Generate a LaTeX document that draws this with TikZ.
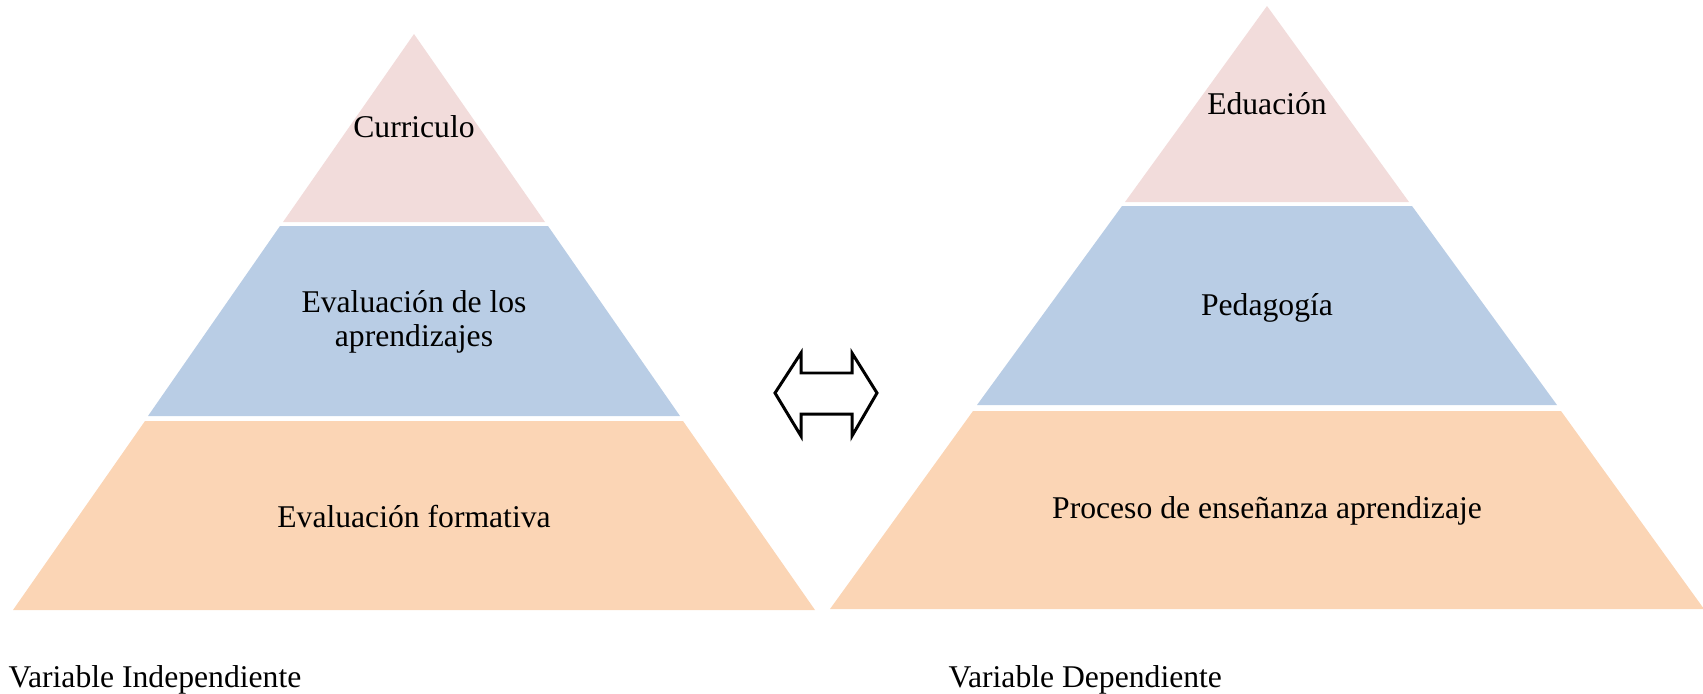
\documentclass[tikz,border=0pt]{standalone}
\usepackage{fontspec}
\setmainfont{Liberation Serif}
\usepackage{tikz}
\usetikzlibrary{positioning}

\definecolor{pinkband}{RGB}{242,220,219}
\definecolor{blueband}{RGB}{185,205,229}
\definecolor{orangeband}{RGB}{251,213,181}

\begin{document}
\begin{tikzpicture}[
        x=0.01cm, y=-0.01cm,
        every node/.style={align=center, font=\fontsize{9}{9.6}\selectfont},
        toplayer/.style={fill=pinkband},
        midlayer/.style={fill=blueband},
        baselayer/.style={fill=orangeband},
        caption/.style={anchor=base west, inner sep=0pt}
    ]
  \useasboundingbox (0,0) rectangle (1703,694);

  % Left pyramid
  \path[toplayer]  (414,34) -- (545,222) -- (283,222) -- cycle;
  \path[midlayer]  (280,226) -- (548,226) -- (680,416) -- (148,416) -- cycle;
  \path[baselayer] (145,421) -- (683,421) -- (815,610) -- (13,610) -- cycle;

  % Right pyramid
  \path[toplayer]  (1267,6) -- (1409,202) -- (1125,202) -- cycle;
  \path[midlayer]  (1122,206) -- (1412,206) -- (1557,405) -- (977,405) -- cycle;
  \path[baselayer] (973,411) -- (1561,411) -- (1704,609) -- (830,609) -- cycle;

  % Nodes
  \node (curriculo) at (414,127) {Curriculo};
  \node (evalapr) at (414,322) {Evaluación de los\\aprendizajes};
  \node (evalform) at (414,517) {Evaluación formativa};
  \node (educacion) at (1267,104) {Eduación};
  \node (pedagogia) at (1267,308) {Pedagogía};
  \node (proceso) at (1267,511) {Proceso de enseñanza aprendizaje};
  \node (indep) [caption] at (8,687) {Variable Independiente};
  \node (dep) [caption] at (948,687) {Variable Dependiente};

  % double arrow
  \draw[line width=0.85pt, line join=miter]
    (775,393) -- (801,353) -- (801,373) -- (852,373) -- (852,353) -- (877,393)
    -- (852,436) -- (852,414) -- (801,414) -- (801,436) -- cycle;
\end{tikzpicture}
\end{document}
